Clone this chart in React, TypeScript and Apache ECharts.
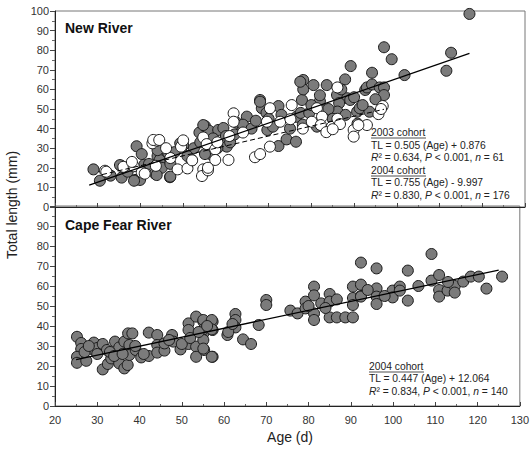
import React, { useEffect, useRef } from "react";
import * as echarts from "echarts";

// New River, 2004 cohort (filled markers): [age (d), total length (mm)]
const newRiver2004: number[][] = [
  [29, 19.2], [30.5, 13.4], [35.6, 15], [35.5, 21], [39.1, 31], [38.7, 13.8], [39.9, 13.8],
  [40.3, 27], [40.9, 21.6], [43.4, 17], [44, 26], [44.5, 24], [45, 20], [46.5, 27.7],
  [46.9, 15.2], [49.3, 32.5], [50, 31.5], [52, 24], [52.5, 30], [53.8, 38], [55.1, 41.3],
  [56, 39], [56.4, 27], [55.1, 27], [58.2, 39.3], [59.4, 40.3], [60, 36.2], [60.2, 30.8],
  [62.5, 43], [61, 33], [64.9, 46.1], [63.8, 39], [68, 54.6], [68.4, 50.4], [69.5, 48],
  [69.7, 39.3], [72.3, 51.5], [72.3, 31.1], [74.2, 34.5], [76.4, 33.3], [76.5, 46],
  [77.8, 54.6], [78.1, 64.8], [78.1, 60], [77.5, 48], [80.5, 62.2], [79.5, 48], [83.6, 62.2],
  [82, 54], [81.3, 41], [86, 57.1], [88.4, 55.5], [87.9, 65.1], [89.2, 71.9], [86.5, 53],
  [86.1, 48.7], [88, 47], [90.7, 48.6], [90.8, 42.5], [92.6, 59.7], [89.1, 54.6], [91.3, 50.4],
  [97, 81.5], [98.8, 75.4], [94.2, 68.5], [93, 61], [94.2, 62.5], [96, 61], [97, 61],
  [97, 57.1], [101.8, 67.3], [112.7, 78.7], [111.6, 69.5], [117, 98.5], [93.6, 48.6],
  [33, 16], [37, 18], [42, 22], [44, 29], [47, 22], [48, 28], [51, 26], [54, 33], [57, 35],
  [58, 30], [62, 37], [64, 42], [66, 40], [67, 44], [70, 45], [71, 41], [73, 47], [75, 40],
  [78, 42], [80, 52], [82, 57], [84, 50], [85, 45], [87, 60], [90, 56], [92, 52], [95, 55],
  [77.4, 63.9], [68, 53.7], [54.7, 41.8], [47, 15.5], [43.8, 16.3], [38.5, 13.4], [35.2, 21.4],
];

// New River, 2003 cohort (open markers)
const newRiver2003: number[][] = [
  [31.7, 18.5], [32, 18], [36, 20.5], [38.4, 20.8], [40.3, 17.7], [41, 17], [42.8, 32.5],
  [43.8, 33.8], [43, 34.2], [44.4, 34.2], [43.6, 21], [48.7, 19.2], [49.5, 30.8], [51, 19.7],
  [52.1, 23.8], [54.7, 19.2], [54.4, 15.8], [55.8, 18.7], [54.7, 35.5], [55.5, 32.1],
  [57.5, 29.4], [57.5, 24], [55.8, 20], [61.8, 47.8], [61.8, 43.5], [60.8, 36.2], [60.6, 24],
  [66.8, 25.4], [68, 27], [70.3, 50.4], [69.6, 43.5], [70.3, 30.8], [72.7, 43.5], [75.4, 52],
  [75.1, 44.8], [81.3, 50.4], [80.1, 43.5], [82.5, 46.1], [82.2, 41.8], [84.8, 41], [83.5, 38.2],
  [86.1, 61], [86.1, 45], [89.9, 39.3], [89.9, 35.9], [93, 41.8], [96.7, 51.5], [95.7, 47.4],
  [86.7, 42.3], [91, 41.8], [85, 39.7], [96.3, 50], [47, 25], [38, 23], [46, 30], [58, 33],
  [64, 38], [78, 40], [50, 34],
];

// Cape Fear River, 2004 cohort
const capeFear2004: number[][] = [
  [25.2, 34.6], [26.2, 31.5], [26.2, 28.5], [25.2, 24.6], [25.2, 21.6], [27.4, 22.6],
  [29.2, 31.7], [29.2, 28], [30, 29], [31.3, 31], [31.3, 18.3], [32.5, 21], [33.3, 23.8],
  [32.3, 28], [34.2, 32.2], [35.2, 29.3], [35.2, 21.3], [36.4, 32.2], [36.4, 18.8],
  [37.2, 20.5], [37.3, 36.3], [38.3, 36.3], [37.6, 30.5], [37.6, 25.5], [39.1, 28],
  [40.4, 24.3], [42.2, 25], [42.2, 36.7], [44.2, 35.5], [44.2, 30.5], [44.2, 26.7],
  [45.9, 27.7], [45.9, 31.3], [47.7, 35.5], [48, 32.2], [49.7, 28.3], [51.6, 41.3],
  [51.6, 38], [51.6, 31], [53.4, 44.7], [53.4, 29.7], [53.4, 24.6], [55.1, 42.2], [55.1, 36.3],
  [55.3, 28], [57.3, 42.2], [57.3, 38], [57.3, 24.6], [55.1, 43], [57.1, 43], [55.1, 38.3],
  [57.1, 38.3], [55.1, 33], [55.1, 28.7], [57.1, 24.6], [60.8, 35.5], [62.7, 46], [62.7, 43],
  [62.7, 39.3], [64.5, 33.3], [66.4, 31], [68.2, 40.5], [70, 53], [70, 50.5], [75.7, 47.7],
  [77.4, 46.3], [79.3, 52.2], [79.3, 48.8], [81.3, 59.7], [81.3, 55.3], [81.3, 46.3],
  [81.3, 43], [83, 51.3], [85, 56], [85, 52.2], [85, 44.3], [86.7, 53.3], [86.7, 44.3],
  [88.7, 44.3], [90.5, 44.3], [90.5, 59.7], [90.5, 54], [90.5, 50.5], [92.4, 71.7],
  [92.4, 60.7], [92.4, 55], [92.4, 54.7], [96.1, 68.8], [96.1, 58.8], [96.1, 54.7], [96.1, 51],
  [99.9, 57.7], [99.9, 54.3], [101.6, 59.7], [101.6, 57.7], [103.5, 67.7], [103.5, 52.7],
  [109.1, 76], [109.1, 62.7], [110.9, 65.5], [110.9, 58], [110.9, 54.7], [112.9, 57.7],
  [114.6, 60], [114.6, 56.7], [116.6, 62.2], [118.4, 64.7], [120.3, 64.7], [122.1, 58.7],
  [125.8, 64.7], [27, 27], [28, 30], [30, 26], [33, 27], [34, 25], [36, 26], [39, 30],
  [41, 26], [47, 33], [50, 31], [52, 34], [54, 37], [56, 40], [61, 37], [62, 41], [80, 50],
  [84, 49], [98, 55], [106, 60], [113, 62], [94, 58],
];

// Regression fits: [slope, intercept, first age, last age]
const fitNew2003 = [0.505, 0.876, 31, 97];
const fitNew2004 = [0.755, -9.997, 28, 117];
const fitCape2004 = [0.447, 12.064, 25, 125];

const yTicks = [0, 10, 20, 30, 40, 50, 60, 70, 80, 90, 100];
const xTicks = [20, 30, 40, 50, 60, 70, 80, 90, 100, 110, 120, 130];

const FONT = "'Liberation Sans', Arial, Helvetica, sans-serif";
const GRAY = "#7b7b7b";
const ANN_SIZE = 10.3;

const fitLine = (f: number[]) => [
  [f[2], f[0] * f[2] + f[1]],
  [f[3], f[0] * f[3] + f[1]],
];

export default function App() {
  const ref = useRef<HTMLDivElement>(null);

  useEffect(() => {
    if (!ref.current) return;
    document.body.style.margin = "0";
    const chart = echarts.init(ref.current, null, { renderer: "svg" });

    const xBase = (grid: number, labels: boolean) => ({
      type: "value",
      gridIndex: grid,
      min: xTicks[0],
      max: xTicks[xTicks.length - 1],
      interval: 10,
      axisLine: { show: true, lineStyle: { color: "#222", width: 1 } },
      axisTick: { show: true, inside: true, length: 4, lineStyle: { color: "#444" } },
      minorTick: { show: true, splitNumber: 2, length: 2, lineStyle: { color: "#666" } },
      splitLine: { show: false },
      axisLabel: { show: labels, color: "#333", fontSize: 11, fontFamily: FONT, margin: 8 },
    });

    const yBase = (grid: number, hideTop: boolean) => ({
      type: "value",
      gridIndex: grid,
      min: yTicks[0],
      max: yTicks[yTicks.length - 1],
      interval: 10,
      axisLine: { show: true, lineStyle: { color: "#222", width: 1 } },
      axisTick: { show: true, inside: false, length: 5, lineStyle: { color: "#444" } },
      minorTick: { show: true, splitNumber: 2, length: 3, lineStyle: { color: "#666" } },
      splitLine: { show: false },
      axisLabel: {
        color: "#333",
        fontSize: 11,
        fontFamily: FONT,
        margin: 6,
        formatter: (v: number) => (hideTop && v === 100 ? "" : String(v)),
      },
    });

    const scatter = (data: number[][], grid: number, fill: string) => ({
      type: "scatter",
      xAxisIndex: grid,
      yAxisIndex: grid,
      data,
      symbol: "circle",
      symbolSize: 11,
      itemStyle: { color: fill, borderColor: "#1a1a1a", borderWidth: 1, opacity: 1 },
      z: 2,
    });

    const line = (f: number[], grid: number, dashed: boolean) => ({
      type: "line",
      xAxisIndex: grid,
      yAxisIndex: grid,
      data: fitLine(f),
      symbol: "none",
      lineStyle: { color: "#000", width: dashed ? 1 : 1.3, type: dashed ? [5, 3] : "solid" },
      z: 5,
    });

    const textStyle = { fontFamily: FONT, fontSize: ANN_SIZE, fill: "#222" };
    const rich = {
      i: { fontStyle: "italic", fontFamily: FONT, fontSize: ANN_SIZE, fill: "#222" },
    };

    const ann = (x: number, y: number, text: string) => ({
      type: "text",
      x,
      y,
      style: { ...textStyle, text, rich, textVerticalAlign: "middle" },
      z: 10,
    });

    const underline = (x: number, y: number, w: number) => ({
      type: "line",
      shape: { x1: x, y1: y, x2: x + w, y2: y },
      style: { stroke: "#222", lineWidth: 0.8 },
      z: 10,
    });

    chart.setOption({
      animation: false,
      grid: [
        { left: 55, top: 11, width: 470, height: 196, show: true, borderColor: "#777", borderWidth: 1 },
        { left: 55, top: 206, width: 470, height: 200, show: true, borderColor: "#777", borderWidth: 1 },
      ],
      xAxis: [xBase(0, false), xBase(1, true)],
      yAxis: [yBase(0, false), yBase(1, true)],
      series: [
        scatter(newRiver2004, 0, GRAY),
        scatter(newRiver2003, 0, "#ffffff"),
        line(fitNew2004, 0, false),
        line(fitNew2003, 0, true),
        scatter(capeFear2004, 1, GRAY),
        line(fitCape2004, 1, false),
      ],
      graphic: [
        {
          type: "text",
          x: 12,
          y: 205,
          rotation: Math.PI / 2,
          style: {
            text: "Total length (mm)",
            fontFamily: FONT,
            fontSize: 14,
            fill: "#222",
            textAlign: "center",
            textVerticalAlign: "middle",
          },
        },
        {
          type: "text",
          x: 290,
          y: 437,
          style: {
            text: "Age (d)",
            fontFamily: FONT,
            fontSize: 14,
            fill: "#222",
            textAlign: "center",
            textVerticalAlign: "middle",
          },
        },
        {
          type: "text",
          x: 65,
          y: 28,
          style: { text: "New River", fontFamily: FONT, fontSize: 14, fontWeight: "bold", fill: "#111", textVerticalAlign: "middle" },
        },
        {
          type: "text",
          x: 65,
          y: 225,
          style: { text: "Cape Fear River", fontFamily: FONT, fontSize: 14, fontWeight: "bold", fill: "#111", textVerticalAlign: "middle" },
        },
        ann(371, 132, "2003 cohort"),
        underline(371, 138, 55),
        ann(371, 145, "TL = 0.505 (Age) + 0.876"),
        ann(371, 157, "{i|R}² = 0.634, {i|P} < 0.001, {i|n} = 61"),
        ann(371, 170, "2004 cohort"),
        underline(371, 176, 55),
        ann(371, 182, "TL = 0.755 (Age) - 9.997"),
        ann(371, 195, "{i|R}² = 0.830, {i|P} < 0.001, {i|n} = 176"),
        ann(369, 366, "2004 cohort"),
        underline(369, 372, 55),
        ann(369, 378, "TL = 0.447 (Age) + 12.064"),
        ann(369, 391, "{i|R}² = 0.834, {i|P} < 0.001, {i|n} = 140"),
      ],
    });

    return () => chart.dispose();
  }, []);

  return <div ref={ref} style={{ width: 532, height: 449 }} />;
}
